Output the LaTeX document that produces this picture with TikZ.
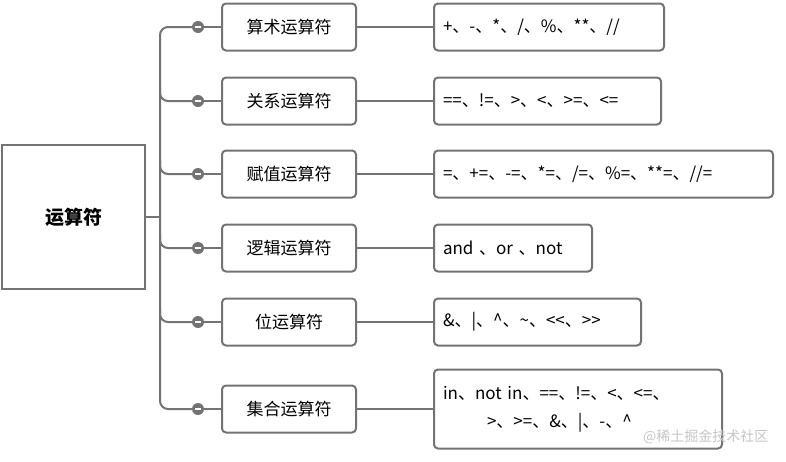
\documentclass[tikz,border=0pt]{standalone}
\usepackage{fontspec}
\setmainfont{Noto Sans CJK SC}
\begin{document}
\begin{tikzpicture}[x=1pt,y=-1pt,
  ln/.style={draw=gray!90!black,line width=2pt},
  mid/.style={ln,rounded corners=4pt,minimum width=134pt,minimum height=47pt,inner sep=0pt,font=\fontsize{17}{20}\selectfont},
  rt/.style={ln,rounded corners=4pt,anchor=west,minimum height=47pt,inner xsep=9pt,align=left,font=\fontsize{17}{20}\selectfont},
  dot/.style={circle,fill=gray!90!black,minimum size=12pt,inner sep=0pt,path picture={\draw[white,line width=1.5pt](-3pt,0)--(3pt,0);}}]
\useasboundingbox (0,0) rectangle (786,461);
\node[ln,minimum width=143pt,minimum height=144pt,inner sep=0pt,font=\fontsize{19}{22}\selectfont\bfseries] (root) at (73.5,217) {运算符};
\coordinate (tr) at (160,217);
\draw[ln] (root.east) -- (tr);
\foreach \i/\y/\m/\w/\t in {1/27/算术运算符/230/{+、-、*、/、\%、**、//},
  2/101/关系运算符/227/{==、!=、>、<、>=、<=},
  3/174/赋值运算符/339/{=、+=、-=、*=、/=、\%=、**=、//=},
  4/248/逻辑运算符/158/{and 、or 、not},
  5/322/位运算符/207/{\&、|、\^{}、\textasciitilde、<{}<、>{}>}}{
  \node[mid] (m\i) at (289,\y) {\m};
  \node[dot] (d\i) at (198,\y) {};
  \node[rt,text width=\w pt-18pt] (r\i) at (433,\y) {\t};
  \draw[ln] (d\i) -- (m\i.west);
  \draw[ln] (m\i.east) -- (r\i.west);
}
\node[mid] (m6) at (289,409) {集合运算符};
\node[dot] (d6) at (198,409) {};
\node[ln,rounded corners=4pt,anchor=west,text width=270pt,minimum height=79pt,inner xsep=9pt,font=\fontsize{17}{28}\selectfont,align=left] (r6) at (433,409) {in、not in、==、!=、<、<=、\\\hspace*{44pt}>、>=、\&、|、-、\^{}};
\draw[ln] (d6) -- (m6.west);
\draw[ln] (m6.east) -- (r6.west);
\draw[ln,rounded corners=8pt] (d1.west) -- (160,27) -- (160,409) -- (d6.west);
\foreach \i/\y in {2/101,3/174,4/248,5/322}{\draw[ln,rounded corners=8pt] (160,\y-14) -- (160,\y) -- (d\i.west);}
\node[anchor=east,text=gray!45,font=\fontsize{14}{16}\selectfont] (wm) at (772,437) {@稀土掘金技术社区};
\end{tikzpicture}
\end{document}
